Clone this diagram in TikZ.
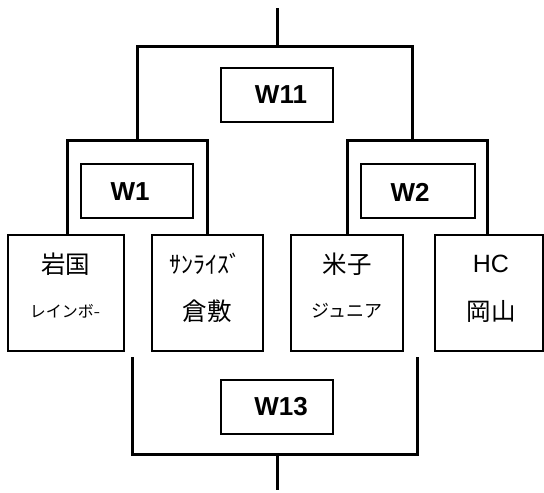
\documentclass[tikz,border=0pt]{standalone}
\usepackage{fontspec}
\setmainfont{Liberation Sans}
\newfontfamily\jp{Noto Sans CJK JP}
\begin{document}
\begin{tikzpicture}[x=1pt,y=-1pt,
  bracket/.style={line width=3pt},
  wbox/.style={draw,line width=1.3pt,minimum width=112pt,minimum height=54pt,inner sep=0pt},
  wtext/.style={inner sep=0pt,font=\bfseries\fontsize{26}{26}\selectfont},
  team/.style={draw,line width=1.3pt,minimum width=116pt,minimum height=116pt,inner sep=0pt},
  big/.style={inner sep=0pt,font=\jp\fontsize{24.5}{24.5}\selectfont},
  half/.style={inner sep=0pt,font=\jp\fontsize{24}{24}\selectfont},
  lat/.style={inner sep=0pt,font=\fontsize{25}{25}\selectfont}]
\useasboundingbox (0,0) rectangle (544,493);
% team boxes
\node[team] (t1) at (66,293) {};
\node[team,minimum width=111pt] (t2) at (207.5,293) {};
\node[team,minimum width=112pt] (t3) at (347,293) {};
\node[team,minimum width=108pt] (t4) at (489,293) {};
% labels
\node[big] (l1a) at (66,264) {岩国};
\node[inner sep=0pt,font=\jp\fontsize{16}{16}\selectfont] (l1b) at (65,311) {レインボ{\fontsize{12}{12}\selectfont ｰ}};
\node[half] (l2a) at (205,264) {ｻﾝﾗｲｽﾞ};
\node[big] (l2b) at (207,311) {倉敷};
\node[big] (l3a) at (347,264) {米子};
\node[inner sep=0pt,font=\jp\fontsize{18}{18}\selectfont] (l3b) at (347,311) {ジュニア};
\node[lat] (l4a) at (491,264) {HC};
\node[big] (l4b) at (491,311) {岡山};
% W boxes
\node[wbox] (w11) at (277,95) {};
\node[wbox] (w1) at (137,191) {};
\node[wbox,minimum width=114pt] (w2) at (418,191) {};
\node[wbox] (w13) at (277,407) {};
\node[wtext] (w11t) at (281,95) {W11};
\node[wtext] (w1t) at (130,192) {W1};
\node[wtext] (w2t) at (410,192) {W2};
\node[wtext] (w13t) at (281,407) {W13};
% top bracket
\coordinate (top) at (277,8);
\coordinate (tm) at (277,46);
\coordinate (tl) at (137,46);
\coordinate (tr) at (412,46);
\coordinate (ml) at (137,140);
\coordinate (mr) at (412,140);
\coordinate (l1) at (67,140);
\coordinate (l2) at (207,140);
\coordinate (r1) at (347,140);
\coordinate (r2) at (487,140);
\draw[bracket] (top) -- (tm);
\draw[bracket] (ml) -- (tl) -- (tr) -- (mr);
\draw[bracket] (l1 |- t1.north) -- (l1) -- (l2) -- (l2 |- t2.north);
\draw[bracket] (r1 |- t3.north) -- (r1) -- (r2) -- (r2 |- t4.north);
% bottom bracket
\coordinate (b1) at (132,357);
\coordinate (b2) at (417,357);
\coordinate (bl) at (132,454);
\coordinate (br) at (417,454);
\coordinate (bm) at (277,454);
\coordinate (bot) at (277,490);
\draw[bracket] (b1) -- (bl) -- (br) -- (b2);
\draw[bracket] (bm) -- (bot);
\end{tikzpicture}
\end{document}
